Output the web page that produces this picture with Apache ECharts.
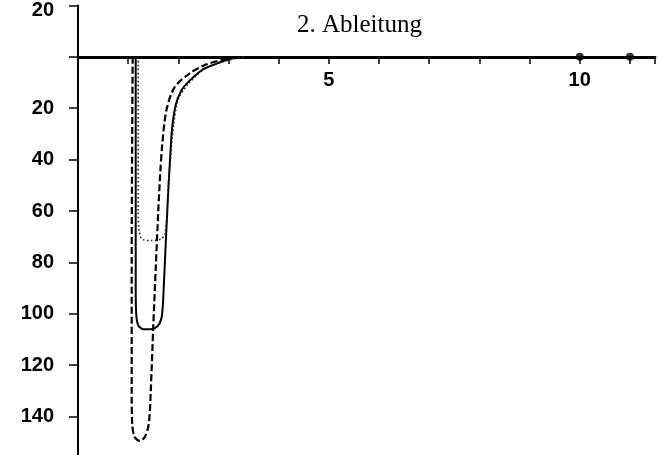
<!DOCTYPE html>
<html>
<head>
<meta charset="utf-8">
<script src="https://cdn.jsdelivr.net/npm/echarts@6/dist/echarts.min.js"></script>
<style>
html,body{margin:0;padding:0;background:#fff;}
#chart{width:658px;height:455px;}
</style>
</head>
<body>
<div id="chart"></div>
<script>
// Data (x, second derivative value)
const titleText = '2. Ableitung';
const xTickLabels = [5, 10];
const yTickValues = [20, 0, -20, -40, -60, -80, -100, -120, -140];
const solidCurve = [[1.15,0],[1.15,-40],[1.15,-90],[1.16,-100],[1.2,-104.5],[1.3,-106],[1.45,-106],[1.58,-105],[1.66,-102],[1.69,-97],[1.72,-85],[1.76,-68],[1.8,-52],[1.84,-38],[1.88,-27],[1.95,-18.5],[2.05,-13.5],[2.16,-10.5],[2.48,-5],[2.75,-2.7],[3.0,-1],[3.3,0]];
const dashedCurve = [[1.09,0],[1.08,-30],[1.07,-80],[1.07,-130],[1.08,-143],[1.13,-148],[1.23,-149.5],[1.33,-148],[1.41,-143],[1.45,-130],[1.5,-105],[1.55,-82],[1.6,-60],[1.64,-45],[1.68,-34],[1.76,-21],[1.92,-12],[2.22,-6.5],[2.55,-3],[2.95,-0.8],[3.2,0]];
const dottedCurve = [[1.2,0],[1.2,-30],[1.2,-60],[1.22,-68],[1.28,-71],[1.45,-71.5],[1.65,-71],[1.73,-69],[1.77,-62],[1.8,-50],[1.85,-38],[1.91,-26],[2.0,-16.5],[2.2,-10.5],[2.5,-5],[2.8,-2.5],[3.05,-1],[3.3,0]];
const axisDots = [[10,0],[11,0]];

const Y_MIN = -155, Y_MAX = 20;
const GRID_TOP = 4.5, GRID_H = 450.5;
const zeroOffset = GRID_H * Y_MAX / (Y_MAX - Y_MIN);

const chart = echarts.init(document.getElementById('chart'), null, {renderer:'canvas'});
const labelFont = {fontFamily:'"Liberation Sans", Arial, sans-serif', fontWeight:'bold', fontSize:20, color:'#000'};
chart.setOption({
  animation:false,
  backgroundColor:'#fff',
  grid:{left:78, top:GRID_TOP, width:580, height:GRID_H, containLabel:false},
  graphic:[{type:'text', x:297, y:25, style:{text:titleText, font:'25px "Liberation Serif", serif', fill:'#000', verticalAlign:'middle'}}],
  xAxis:{
    type:'value', min:0, max:11.5, interval:1,
    position:'top', offset:-zeroOffset,
    axisLine:{onZero:false, lineStyle:{color:'#000', width:2.8}},
    axisTick:{show:true, length:7, inside:true, lineStyle:{color:'#000', width:1.5}},
    axisLabel:Object.assign({inside:true, margin:13, formatter:v => xTickLabels.includes(v) ? String(v) : ''}, labelFont),
    splitLine:{show:false}
  },
  yAxis:{
    type:'value', min:Y_MIN, max:Y_MAX,
    axisLine:{show:true, lineStyle:{color:'#000', width:2}},
    axisTick:{show:true, length:9, customValues:yTickValues, lineStyle:{color:'#000', width:1.5}},
    axisLabel:Object.assign({margin:24, customValues:yTickValues.filter(v => v !== 0), formatter:v => {
      if (v === 20) return '{t|20}';
      return String(Math.abs(v));
    }, rich:{t:Object.assign({padding:[9,0,0,0]}, labelFont)}}, labelFont),
    splitLine:{show:false}
  },
  series:[
    {type:'line', data:solidCurve, smooth:0.3, showSymbol:false, lineStyle:{color:'#000', width:2}},
    {type:'line', data:dashedCurve, smooth:0.3, showSymbol:false, lineStyle:{color:'#000', width:2.2, type:[7,3]}},
    {type:'line', data:dottedCurve, smooth:0.3, showSymbol:false, lineStyle:{color:'#222', width:1.6, type:[1.6,2.4]}},
    {type:'scatter', data:axisDots, symbolSize:8, itemStyle:{color:'#000'}}
  ]
});
</script>
</body>
</html>
